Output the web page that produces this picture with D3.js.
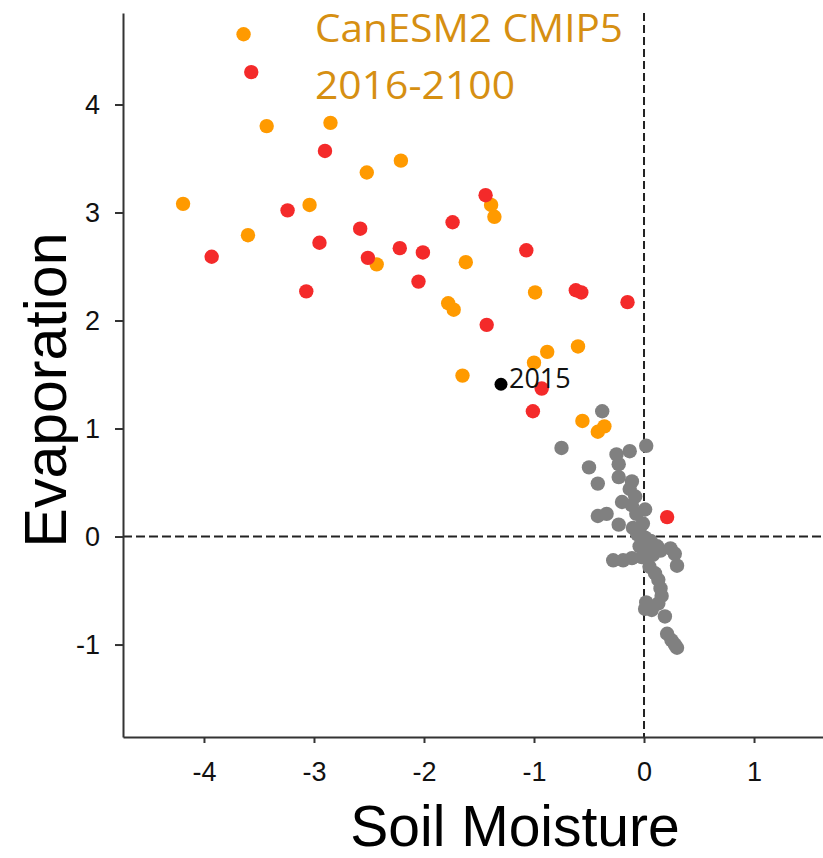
<!DOCTYPE html>
<html>
<head>
<meta charset="utf-8">
<script src="https://cdn.jsdelivr.net/npm/d3@7"></script>
<style>
  body { margin: 0; background: #fff; }
  svg { display: block; }
</style>
</head>
<body>
<div id="chart"></div>
<script>
// Configuration
const width = 823;
const height = 858;

// Data: [soil moisture, evaporation]
const historical = [
  [-0.38, 1.16], [-0.75, 0.82], [0.02, 0.84], [-0.25, 0.76], [-0.13, 0.79],
  [-0.23, 0.67], [-0.50, 0.64], [-0.23, 0.55], [-0.11, 0.51], [-0.42, 0.49],
  [-0.13, 0.44], [-0.08, 0.37], [-0.20, 0.32], [-0.11, 0.29], [0.01, 0.25],
  [-0.42, 0.19], [-0.34, 0.21], [-0.07, 0.21], [-0.23, 0.11], [-0.01, 0.12],
  [-0.10, 0.08], [-0.04, 0.07], [-0.06, 0.02], [0.01, -0.01], [0.06, -0.04],
  [0.04, -0.09], [-0.04, -0.09], [0.12, -0.09], [0.24, -0.11], [0.28, -0.16],
  [0.30, -0.27], [-0.28, -0.22], [-0.19, -0.22], [-0.11, -0.20], [-0.02, -0.19],
  [0.08, -0.17], [0.15, -0.13], [0.05, -0.28], [0.10, -0.34], [0.13, -0.40],
  [0.15, -0.48], [0.16, -0.55], [0.13, -0.62], [0.02, -0.61], [0.01, -0.67],
  [0.07, -0.68], [0.19, -0.74], [0.21, -0.90], [0.25, -0.96], [0.28, -1.00],
  [0.30, -1.03]
];

const futureOrange = [
  [-3.64, 4.65], [-3.43, 3.80], [-2.85, 3.83], [-2.52, 3.37], [-2.21, 3.48],
  [-4.19, 3.08], [-3.04, 3.07], [-3.60, 2.79], [-2.43, 2.52], [-1.39, 3.07],
  [-1.36, 2.96], [-1.62, 2.54], [-0.99, 2.26], [-1.78, 2.16], [-1.73, 2.10],
  [-0.88, 1.71], [-0.60, 1.76], [-1.00, 1.61], [-1.65, 1.49], [-0.56, 1.07],
  [-0.42, 0.97], [-0.36, 1.02]
];

const futureRed = [
  [-3.57, 4.30], [-2.90, 3.57], [-3.24, 3.02], [-3.93, 2.59], [-2.95, 2.72],
  [-2.58, 2.85], [-2.51, 2.58], [-2.22, 2.67], [-2.01, 2.63], [-2.05, 2.36],
  [-1.74, 2.91], [-3.07, 2.27], [-1.44, 3.16], [-1.07, 2.65], [-0.62, 2.28],
  [-0.57, 2.26], [-0.15, 2.17], [-1.43, 1.96], [-0.93, 1.37], [-1.01, 1.16],
  [0.21, 0.18]
];

const year2015 = [[-1.30, 1.41]];

const xTicks = [-4, -3, -2, -1, 0, 1];
const yTicks = [-1, 0, 1, 2, 3, 4];

// Setup
const svg = d3.select("#chart")
    .append("svg")
    .attr("width", width)
    .attr("height", height);

const x = d3.scaleLinear()
    .domain([-4.736, 1.627])
    .range([123, 823]);

const y = d3.scaleLinear()
    .domain([-1.856, 4.847])
    .range([737, 13]);

// Reference lines at zero
svg.append("line")
    .attr("x1", x(0)).attr("x2", x(0))
    .attr("y1", y.range()[1]).attr("y2", y.range()[0])
    .attr("stroke", "#222")
    .attr("stroke-width", 2)
    .attr("stroke-dasharray", "8,4");

svg.append("line")
    .attr("x1", x.range()[0]).attr("x2", x.range()[1])
    .attr("y1", y(0)).attr("y2", y(0))
    .attr("stroke", "#222")
    .attr("stroke-width", 2)
    .attr("stroke-dasharray", "9,4");

// Axes
const xAxis = d3.axisBottom(x)
    .tickValues(xTicks)
    .tickFormat(d => String(d))
    .tickSize(6)
    .tickSizeOuter(0)
    .tickPadding(19);

const yAxis = d3.axisLeft(y)
    .tickValues(yTicks)
    .tickFormat(d => String(d))
    .tickSize(8)
    .tickSizeOuter(0)
    .tickPadding(15);

const gx = svg.append("g")
    .attr("transform", `translate(0,${y.range()[0]})`)
    .call(xAxis);

const gy = svg.append("g")
    .attr("transform", `translate(${x.range()[0]},0)`)
    .call(yAxis);

[gx, gy].forEach(g => {
    g.attr("font-family", "'Liberation Sans', Arial, sans-serif");
    g.select(".domain").attr("stroke", "#333").attr("stroke-width", 2);
    g.selectAll(".tick line").attr("stroke", "#333").attr("stroke-width", 2);
    g.selectAll(".tick text")
        .attr("fill", "#111")
        .style("font-size", "27px");
});

// Points
function drawPoints(data, color, r) {
    svg.append("g")
        .selectAll("circle")
        .data(data)
        .enter()
        .append("circle")
        .attr("cx", d => x(d[0]))
        .attr("cy", d => y(d[1]))
        .attr("r", r)
        .attr("fill", color);
}

drawPoints(historical, "#808080", 7.2);
drawPoints(futureOrange, "#ff9a00", 7.2);
drawPoints(futureRed, "#f42a2a", 7.2);
drawPoints(year2015, "#000", 6.5);

// 2015 label
svg.append("text")
    .attr("x", x(year2015[0][0]) + 8)
    .attr("y", y(year2015[0][1]) + 4)
    .attr("fill", "#111")
    .style("font-family", "'Open Sans', sans-serif")
    .style("font-size", "27px")
    .text("2015");

// Legend text
const legend = svg.append("g")
    .attr("fill", "#d68f12")
    .style("font-family", "'Open Sans', sans-serif")
    .style("font-size", "38px");

legend.append("text")
    .attr("x", 315)
    .attr("y", 42)
    .attr("textLength", 308)
    .attr("lengthAdjust", "spacingAndGlyphs")
    .text("CanESM2 CMIP5");

legend.append("text")
    .attr("x", 315)
    .attr("y", 99)
    .attr("textLength", 200)
    .attr("lengthAdjust", "spacingAndGlyphs")
    .text("2016-2100");

// Axis titles
svg.append("text")
    .attr("x", 515)
    .attr("y", 846)
    .attr("text-anchor", "middle")
    .attr("fill", "#000")
    .style("font-family", "'Liberation Sans', Arial, sans-serif")
    .style("font-size", "57px")
    .text("Soil Moisture");

svg.append("text")
    .attr("transform", "translate(66,390) rotate(-90)")
    .attr("text-anchor", "middle")
    .attr("fill", "#000")
    .style("font-family", "'Liberation Sans', Arial, sans-serif")
    .style("font-size", "59px")
    .text("Evaporation");
</script>
</body>
</html>
